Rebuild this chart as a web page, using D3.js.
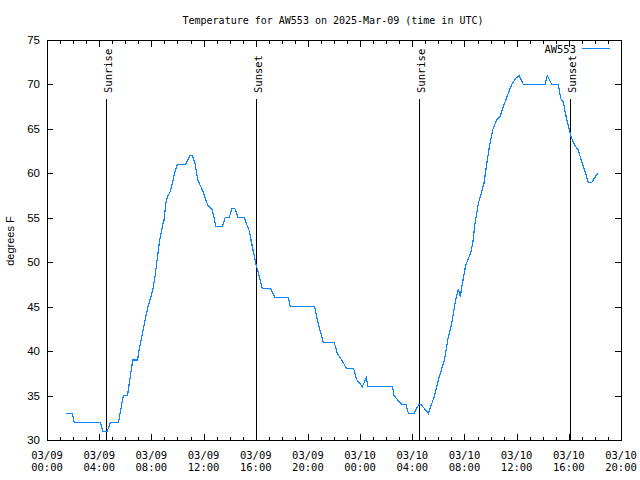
<!DOCTYPE html>
<html>
<head>
<meta charset="utf-8">
<script src="https://cdn.jsdelivr.net/npm/d3@7"></script>
<style>
  html, body { margin: 0; padding: 0; background: #fff; }
  svg { display: block; }
</style>
</head>
<body>
<svg id="chart" width="640" height="480"></svg>
<script>
// ---- data ----
const title = "Temperature for AW553 on 2025-Mar-09 (time in UTC)";
const seriesName = "AW553";
const yLabel = "degrees F";
// hours since 2025-03-09 00:00 UTC
const obsHours = [1.46,1.94,2.09,4.09,4.27,4.62,4.87,5.48,5.85,6.17,6.57,6.94,7.05,7.38,7.74,8.10,8.28,8.46,8.64,8.84,8.97,9.12,9.25,9.43,9.61,9.81,9.99,10.63,10.96,11.14,11.35,11.55,11.73,11.98,12.17,12.37,12.63,12.80,12.96,13.44,13.65,13.97,14.16,14.41,14.66,15.12,15.49,15.74,16.00,16.27,16.50,17.15,17.48,18.50,18.65,20.52,20.72,21.18,22.02,22.25,22.59,22.97,23.51,23.74,24.17,24.48,24.61,26.49,26.60,27.19,27.52,27.70,28.13,28.50,28.67,29.23,29.69,30.07,30.46,30.72,31.02,31.28,31.53,31.68,31.84,32.10,32.30,32.50,32.63,32.81,33.06,33.32,33.50,33.71,33.91,34.17,34.47,34.73,35.03,35.36,35.62,35.93,36.18,36.51,38.18,38.35,38.69,39.20,39.38,39.58,39.76,40.02,40.17,40.48,40.73,40.99,41.24,41.49,41.76,42.21];
const tempF = [33,33,32,32,31,31,32,32,35,35,39,39,40,42.5,45,46.8,48.4,50.5,52.5,54,54.75,56.7,57.4,57.9,58.9,60.2,61,61,62,62,61.1,59.3,58.7,57.9,57,56.3,56,55,54,54,55,55,56,56,55,55,53.6,51.75,49.9,48.4,47,47,46,46,45,45,43.5,41,41,39.75,39,38,38,36.8,36,37,36,36,35,34,34,33,33,34,34,33,34.9,37.1,39,41.25,43.1,45.4,47,46.1,47.6,49.7,50.4,51.2,52.1,54.4,56.6,57.9,58.9,61.1,63,64.9,66,66.4,67.7,69,70,70.7,71,70,70,71,70,70,68.4,68,66.6,65,64.1,63.1,62.6,61.3,60.2,59,59,60];
const sunLabels = ["Sunrise","Sunset","Sunrise","Sunset"];
const sunHours = [4.52,16.02,28.53,40.08];
const yTicks = [30,35,40,45,50,55,60,65,70,75];

// ---- layout ----
const svg = d3.select("#chart");
const L = 47, R = 621, T = 40, B = 440;
const base = Date.UTC(2025, 2, 9, 0, 0);
const toDate = h => new Date(base + h * 3600000);

const x = d3.scaleUtc().domain([toDate(0), toDate(44)]).range([L, R]);
const y = d3.scaleLinear().domain([30, 75]).range([B, T]);

const mono = "'DejaVu Sans Mono', monospace";
const sans = "'Liberation Sans', Arial, sans-serif";

// title
svg.append("text").attr("x", 333).attr("y", 24).attr("text-anchor", "middle")
  .attr("font-family", mono).attr("font-size", 10).text(title);

// border
svg.append("rect").attr("x", L + 0.5).attr("y", T + 0.5)
  .attr("width", R - L).attr("height", B - T)
  .attr("fill", "none").attr("stroke", "#000").attr("stroke-width", 1)
  .attr("shape-rendering", "crispEdges");

// x ticks (major every 4h, minor every 1h), bottom and top, inward
const majorX = d3.utcHour.every(4).range(toDate(0), toDate(44.01));
const minorX = d3.utcHour.every(1).range(toDate(0), toDate(44.01));
const tickG = svg.append("g").attr("stroke", "#000").attr("shape-rendering", "crispEdges");
minorX.forEach(d => {
  const xx = Math.round(x(d)) + 0.5;
  const len = (d.getUTCHours() % 4 === 0) ? 6 : 3;
  tickG.append("line").attr("x1", xx).attr("x2", xx).attr("y1", B).attr("y2", B - len);
  tickG.append("line").attr("x1", xx).attr("x2", xx).attr("y1", T + 1).attr("y2", T + 1 + len);
});
const fDay = d3.utcFormat("%m/%d"), fTime = d3.utcFormat("%H:%M");
majorX.forEach(d => {
  const g = svg.append("text").attr("text-anchor", "middle")
    .attr("font-family", mono).attr("font-size", 10.5);
  g.append("tspan").attr("x", x(d)).attr("y", 459).text(fDay(d));
  g.append("tspan").attr("x", x(d)).attr("y", 471).text(fTime(d));
});

// y ticks, left and right, inward
yTicks.forEach(v => {
  const yy = Math.round(y(v)) + 0.5;
  tickG.append("line").attr("x1", L).attr("x2", L + 6).attr("y1", yy).attr("y2", yy);
  tickG.append("line").attr("x1", R).attr("x2", R - 6).attr("y1", yy).attr("y2", yy);
  svg.append("text").attr("x", 40).attr("y", y(v) + 4).attr("text-anchor", "end")
    .attr("font-family", sans).attr("font-size", 11.5).text(v);
});

// y label
svg.append("text").attr("transform", "translate(14,241) rotate(-90)")
  .attr("text-anchor", "middle").attr("font-family", sans).attr("font-size", 11)
  .text(yLabel);

// sunrise / sunset lines
sunHours.forEach((h, i) => {
  const xx = Math.round(x(toDate(h))) + 0.5;
  svg.append("line").attr("x1", xx).attr("x2", xx).attr("y1", 99).attr("y2", B)
    .attr("stroke", "#000").attr("stroke-width", 1).attr("shape-rendering", "crispEdges");
  svg.append("text").attr("transform", `translate(${xx + 5},93) rotate(-90)`)
    .attr("text-anchor", "start").attr("font-family", mono).attr("font-size", 10.5)
    .text(sunLabels[i]);
});

// temperature line
const line = d3.line().x((d, i) => x(toDate(obsHours[i]))).y(d => y(d));
svg.append("path").datum(tempF).attr("d", line)
  .attr("fill", "none").attr("stroke", "#0a84ff").attr("stroke-width", 1.2)
  .attr("shape-rendering", "crispEdges");

// legend
svg.append("text").attr("x", 576).attr("y", 53).attr("text-anchor", "end")
  .attr("font-family", mono).attr("font-size", 10.5).text(seriesName);
svg.append("line").attr("x1", 582).attr("x2", 610).attr("y1", 48.5).attr("y2", 48.5)
  .attr("stroke", "#0a84ff").attr("stroke-width", 1).attr("shape-rendering", "crispEdges");
</script>
</body>
</html>
